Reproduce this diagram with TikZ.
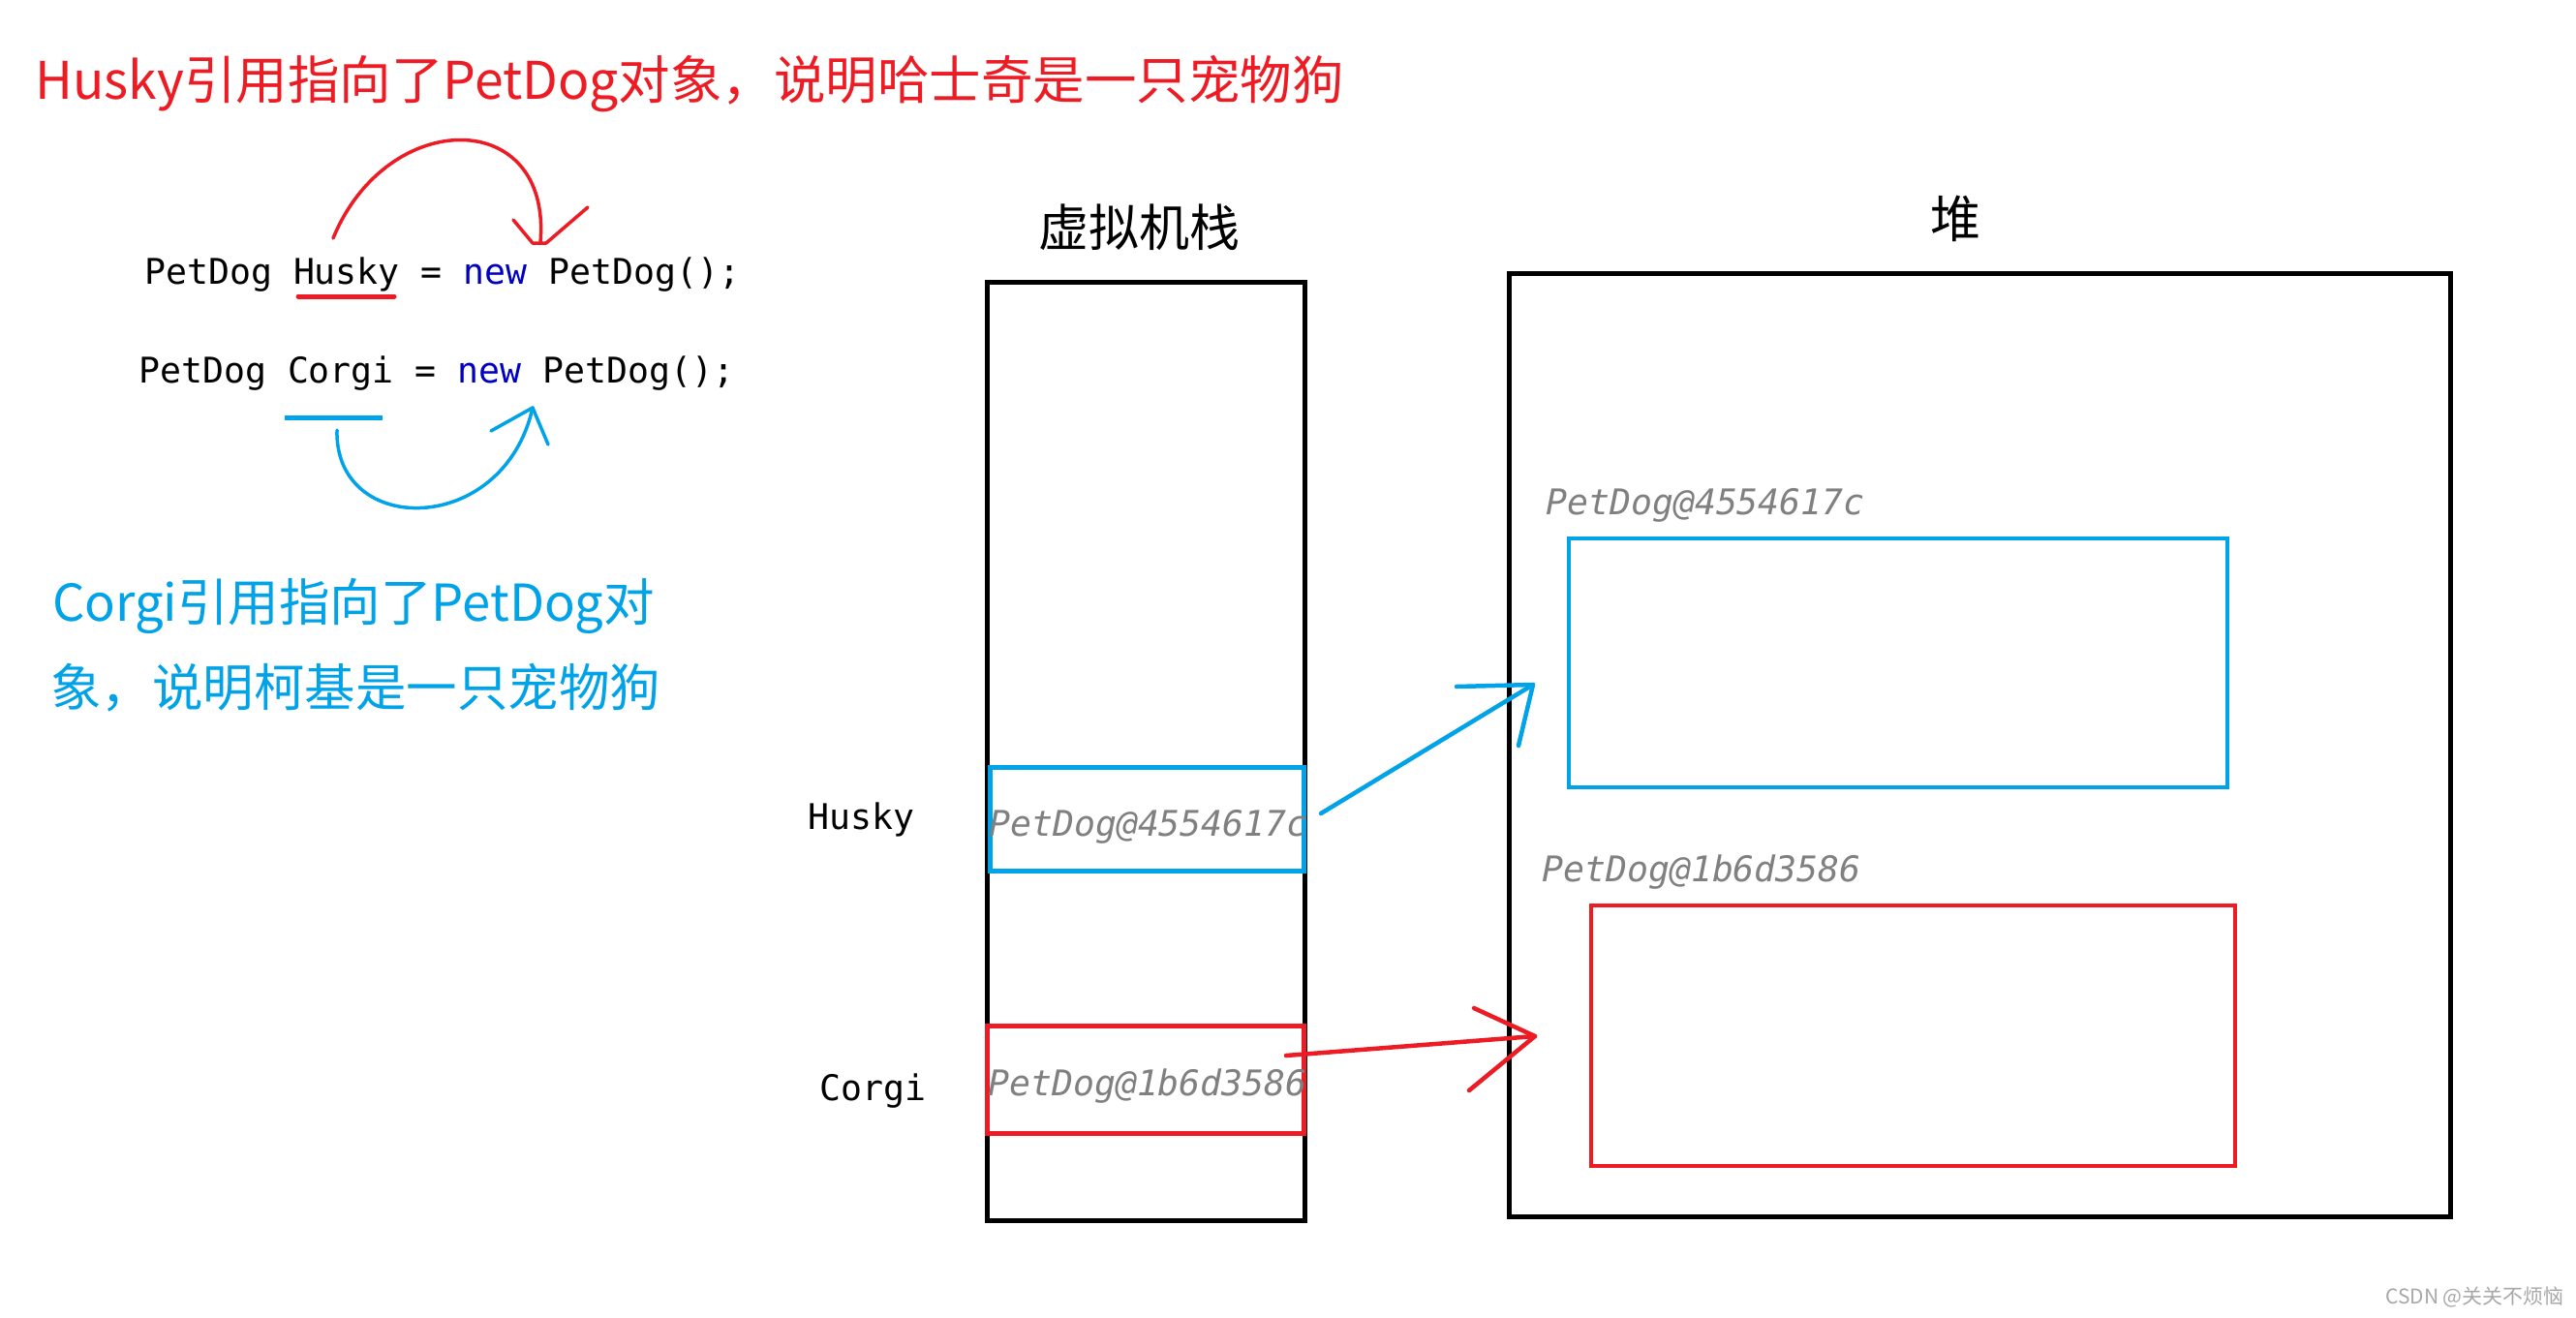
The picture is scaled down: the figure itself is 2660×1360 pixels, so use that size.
\documentclass[tikz,border=0pt]{standalone}
\usepackage{fontspec}
\newfontfamily\cjk{Noto Sans CJK SC}
\newfontfamily\codefont{DejaVu Sans Mono}
\definecolor{pred}{HTML}{ED1C24}
\definecolor{pblue}{HTML}{00A2E8}
\definecolor{kw}{HTML}{0000C0}
\definecolor{addr}{HTML}{808080}
\definecolor{wm}{HTML}{A8A8A8}
\tikzset{
  titletext/.style={inner sep=0pt, anchor=base west, font=\cjk\fontsize{53.5}{60}\selectfont},
  bluetext/.style={inner sep=0pt, anchor=base west, font=\cjk\fontsize{52.5}{60}\selectfont},
  labeltext/.style={inner sep=0pt, anchor=center, font=\cjk\fontsize{52}{60}\selectfont},
  codetext/.style={inner sep=0pt, anchor=base west, font=\codefont\fontsize{36.5}{40}\selectfont},
  addrtext/.style={inner sep=0pt, anchor=base west, text=addr, font=\codefont\itshape\fontsize{36.5}{40}\selectfont},
  memframe/.style={draw=black, line width=5pt, inner sep=0pt, outer sep=0pt, anchor=north west},
  slotbox/.style={draw=#1, line width=5pt, inner sep=0pt, outer sep=0pt, anchor=north west},
  objbox/.style={draw=#1, line width=4.5pt, inner sep=0pt, outer sep=0pt, anchor=north west},
  hand/.style={draw=#1, line width=3.5pt, line cap=round, line join=round},
  handarrow/.style={draw=#1, line width=4.5pt, line cap=round, line join=round}
}
\begin{document}
\begin{tikzpicture}[x=1pt,y=-1pt]
\useasboundingbox (0,0) rectangle (2660,1360);
\fill[white] (0,0) rectangle (2660,1360);

% titles
\node[titletext, text=pred] (title) at (36,102) {Husky引用指向了PetDog对象，说明哈士奇是一只宠物狗};
\node[bluetext, text=pblue] (corgi1) at (54,641) {Corgi引用指向了PetDog对};
\node[bluetext, text=pblue] (corgi2) at (52,729) {象，说明柯基是一只宠物狗};

% code
\node[codetext] (code1) at (149,293) {PetDog Husky = \textcolor{kw}{new} PetDog();};
\node[codetext] (code2) at (143,395) {PetDog Corgi = \textcolor{kw}{new} PetDog();};

% underlines
\coordinate (ru1) at (308,306); \coordinate (ru2) at (407,306);
\draw[pred, line width=5pt, line cap=round] (ru1) -- (ru2);
\coordinate (bu1) at (294,431); \coordinate (bu2) at (395,431);
\draw[pblue, line width=5pt] (bu1) -- (bu2);

% red hand curve
\coordinate (rc0) at (344,246);
\coordinate (rc1) at (558,250);
\draw[hand=pred] (rc0) .. controls (400,110) and (570,110) .. (rc1);
\coordinate (ra1) at (530,227); \coordinate (ra2) at (550,251);
\coordinate (ra3) at (564,251); \coordinate (ra4) at (607,214);
\draw[hand=pred] (ra1) -- (ra2) -- (ra3) -- (ra4);

% blue hand curve
\coordinate (bc0) at (348,444);
\coordinate (bc1) at (550,421);
\draw[hand=pblue] (bc0) .. controls (345,555) and (520,555) .. (bc1);
\coordinate (ba1) at (507,445); \coordinate (ba2) at (566,459);
\draw[hand=pblue] (ba1) -- (bc1) -- (ba2);

% stack
\node[labeltext] (stacklabel) at (1176,235) {虚拟机栈};
\node[memframe, minimum width=328pt, minimum height=969pt] (stack) at (1019,291) {};
\node[slotbox=pblue, minimum width=324pt, minimum height=107pt] (hs) at (1022,792) {};
\node[slotbox=pred, minimum width=327pt, minimum height=111pt] (cg) at (1019,1059) {};
\node[addrtext] (hsaddr) at (1021,863) {PetDog@4554617c};
\node[addrtext] (cgaddr) at (1020,1131) {PetDog@1b6d3586};
\node[codetext] (huskylbl) at (834,856) {Husky};
\node[codetext] (corgilbl) at (846,1136) {Corgi};

% heap
\node[labeltext] (heaplabel) at (2019,226) {堆};
\node[memframe, minimum width=972pt, minimum height=974pt] (heap) at (1558,282) {};
\node[objbox=pblue, minimum width=680pt, minimum height=257pt] (hpblue) at (1620,556) {};
\node[objbox=pred, minimum width=665pt, minimum height=269pt] (hpred) at (1643,935) {};
\node[addrtext] (hpbaddr) at (1596,531) {PetDog@4554617c};
\node[addrtext] (hpraddr) at (1592,910) {PetDog@1b6d3586};

% arrows stack -> heap
\coordinate (bs) at (1364,840);
\coordinate (bt) at (1583,707);
\coordinate (bw1) at (1504,709);
\coordinate (bw2) at (1568,770);
\draw[handarrow=pblue] (bs) -- (bt);
\draw[handarrow=pblue] (bw1) -- (bt) -- (bw2);

\coordinate (rs) at (1328,1090);
\coordinate (rt) at (1585,1070);
\coordinate (rw1) at (1522,1041);
\coordinate (rw2) at (1517,1126);
\draw[handarrow=pred] (rs) -- (rt);
\draw[handarrow=pred] (rw1) -- (rt) -- (rw2);

% watermark
\node[inner sep=0pt, anchor=east, text=wm, font=\cjk\fontsize{21}{24}\selectfont] (wmark) at (2648,1339) {CSDN @关关不烦恼};
\end{tikzpicture}
\end{document}
